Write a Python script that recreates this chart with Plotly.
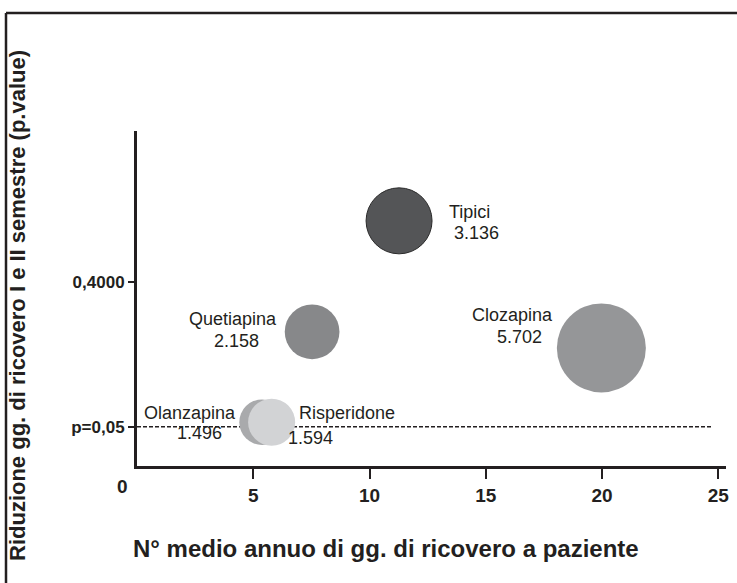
import plotly.graph_objects as go

# ---- data ----
names = ["Olanzapina", "Risperidone", "Quetiapina", "Tipici", "Clozapina"]
x_days = [5.38, 5.79, 7.53, 11.27, 19.97]
y_pval = [0.061, 0.061, 0.28, 0.549, 0.241]
bubble_values = [1.496, 1.594, 2.158, 3.136, 5.702]
value_labels = ["1.496", "1.594", "2.158", "3.136", "5.702"]
colors = ["#a9aaac", "#d2d3d5", "#87888a", "#545557", "#959698"]
outline = ["rgba(0,0,0,0)", "rgba(0,0,0,0)", "rgba(0,0,0,0)", "#2a2a2a", "rgba(0,0,0,0)"]

x_tickvals = [5, 10, 15, 20, 25]
x_ticktext = ["5", "10", "15", "20", "25"]
y_tickvals = [0.05, 0.4]
y_ticktext = ["p=0,05", "0,4000"]
threshold = 0.05

# label positions (name line, value line) per bubble
name_pos = [(2.28, 0.083, "center"), (6.87, 0.083, "left"), (4.13, 0.311, "center"),
            (13.32, 0.571, "left"), (16.13, 0.321, "center")]
val_pos = [(2.68, 0.0355, "center"), (7.46, 0.022, "center"), (4.30, 0.258, "center"),
           (13.55, 0.519, "left"), (16.46, 0.268, "center")]

FONT = "Liberation Sans, Arial, Helvetica, sans-serif"
INK = "#231f20"

fig = go.Figure()
for i in range(len(names)):
    fig.add_trace(go.Scatter(
        x=[x_days[i]], y=[y_pval[i]], mode="markers",
        marker=dict(size=[bubble_values[i]], sizemode="area", sizeref=0.00144,
                    color=colors[i], opacity=1,
                    line=dict(color=outline[i], width=1)),
        name=names[i], showlegend=False, hoverinfo="text",
        text=[f"{names[i]}: {value_labels[i]}"]))

annotations = []
for i in range(len(names)):
    nx, ny, na = name_pos[i]
    vx, vy, va = val_pos[i]
    annotations.append(dict(x=nx, y=ny, xref="x", yref="y", text=names[i], showarrow=False,
                            xanchor=na, yanchor="middle",
                            font=dict(family=FONT, size=18, color=INK)))
    annotations.append(dict(x=vx, y=vy, xref="x", yref="y", text=value_labels[i], showarrow=False,
                            xanchor=va, yanchor="middle",
                            font=dict(family=FONT, size=18, color=INK)))

# "0" origin label
annotations.append(dict(x=-0.0243, y=-0.0618, xref="paper", yref="paper", text="<b>0</b>",
                        showarrow=False, xanchor="center", yanchor="middle",
                        font=dict(family=FONT, size=19, color=INK)))
# axis titles
annotations.append(dict(x=(386 - 137) / 589, y=(466 - 548) / 335, xref="paper", yref="paper",
                        text="<b>N° medio annuo di gg. di ricovero a paziente</b>", showarrow=False,
                        xanchor="center", yanchor="middle",
                        font=dict(family=FONT, size=24, color=INK)))
annotations.append(dict(x=(17 - 137) / 589, y=(466 - 306) / 335, xref="paper", yref="paper",
                        text="<b>Riduzione gg. di ricovero I e II semestre (p.value)</b>", showarrow=False,
                        textangle=-90, xanchor="center", yanchor="middle",
                        font=dict(family=FONT, size=22, color=INK)))

shapes = [
    # threshold dashed line
    dict(type="line", xref="x", yref="y", x0=0, x1=24.73, y0=threshold, y1=threshold,
         line=dict(color=INK, width=1.5, dash="4px,2px"), layer="below"),
    # outer frame (top & left)
    dict(type="line", xref="paper", yref="paper", x0=(6 - 137) / 589, x1=(737 - 137) / 589,
         y0=(466 - 13) / 335, y1=(466 - 13) / 335, line=dict(color=INK, width=2.5)),
    dict(type="line", xref="paper", yref="paper", x0=(6 - 137) / 589, x1=(6 - 137) / 589,
         y0=(466 - 13) / 335, y1=(466 - 590) / 335, line=dict(color=INK, width=2.5)),
]

fig.update_layout(
    width=737, height=583,
    margin=dict(l=137, r=11, t=131, b=117, autoexpand=False),
    paper_bgcolor="white", plot_bgcolor="white",
    annotations=annotations, shapes=shapes,
    showlegend=False,
    xaxis=dict(range=[0, 25.33], showgrid=False, zeroline=False,
               showline=True, linewidth=3, linecolor=INK,
               tickvals=x_tickvals, ticktext=[f"<b>{t}</b>" for t in x_ticktext],
               ticks="outside", ticklen=10, tickwidth=2, tickcolor=INK,
               tickfont=dict(family=FONT, size=19, color=INK)),
    yaxis=dict(range=[-0.0452, 0.7667], showgrid=False, zeroline=False,
               showline=True, linewidth=3, linecolor=INK,
               tickvals=y_tickvals, ticktext=[f"<b>{t}</b>" for t in y_ticktext],
               ticks="outside", ticklen=6, tickwidth=2, tickcolor=INK,
               tickfont=dict(family=FONT, size=17, color=INK)),
)

fig.write_html("out.html", config={"displayModeBar": False},
               post_script="document.body.style.margin='0';")
